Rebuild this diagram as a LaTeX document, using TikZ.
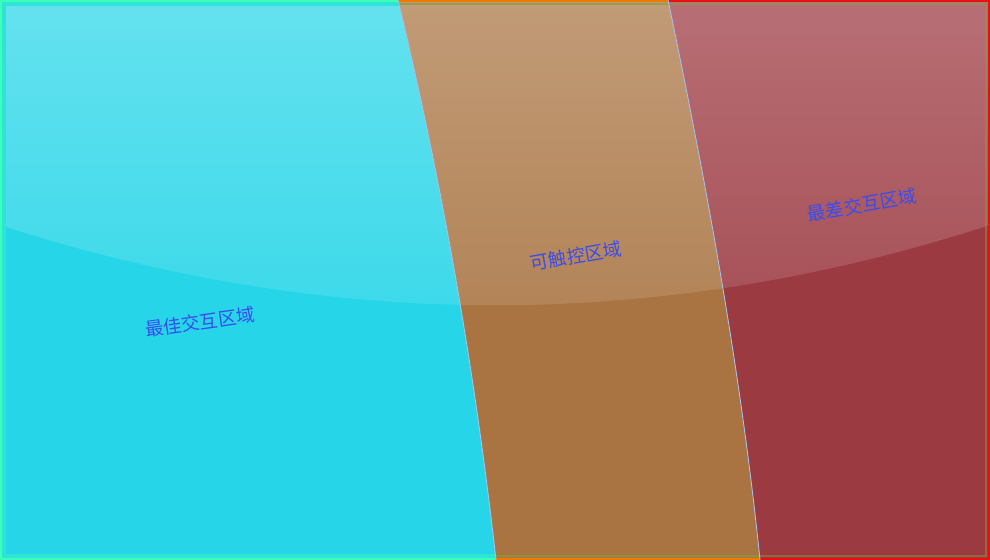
\documentclass[tikz,border=0pt]{standalone}
\usepackage{fontspec}
\newfontfamily\cjk{Noto Sans CJK SC}
\definecolor{cyanbase}{HTML}{26D5E8}
\definecolor{orangebase}{HTML}{A97442}
\definecolor{redbase}{HTML}{9C3A42}
\definecolor{cyanedge}{HTML}{3CFFB8}
\definecolor{orangeedge}{HTML}{F07800}
\definecolor{rededge}{HTML}{E81010}
\definecolor{innerline}{HTML}{7FA040}
\definecolor{sepline}{HTML}{A8C0EC}
\definecolor{labelblue}{HTML}{3A4CF0}
\tikzset{
  regionlabel/.style={font=\cjk\fontsize{10.5}{12}\selectfont, text=labelblue, inner sep=0pt},
  sepstyle/.style={draw=sepline, line width=0.5pt},
}
\begin{document}
\begin{tikzpicture}[x=0.02cm,y=-0.02cm]
\useasboundingbox (0,0) rectangle (990,560);
% left region
\begin{scope}
  \clip (0,0) -- (398,0) .. controls (443,187) and (475,373) .. (496,560) -- (0,560) -- cycle;
  \fill[cyanbase] (0,0) rectangle (990,560);
  \shade[top color=cyanbase!71!white, bottom color=cyanbase!91!white]
    (0,0) -- (990,0) -- (990,225) .. controls (660,332) and (330,332) .. (0,225) -- cycle;
  \draw[cyanedge!35!cyanbase, line width=2pt] (4,4) rectangle (986,556);
  \draw[cyanedge, line width=1.2pt] (1,1) rectangle (989,559);
\end{scope}
% middle region
\begin{scope}
  \clip (398,0) -- (668,0) .. controls (707,187) and (741,373) .. (760,560) -- (496,560) .. controls (475,373) and (443,187) .. (398,0) -- cycle;
  \fill[orangebase] (0,0) rectangle (990,560);
  \shade[top color=orangebase!72!white, bottom color=orangebase!90!white]
    (0,0) -- (990,0) -- (990,225) .. controls (660,332) and (330,332) .. (0,225) -- cycle;
  \draw[innerline, opacity=0.7, line width=1.2pt] (4,4) rectangle (986,556);
  \draw[orangeedge, line width=1.6pt] (1,1) rectangle (989,559);
\end{scope}
% right region
\begin{scope}
  \clip (668,0) -- (990,0) -- (990,560) -- (760,560) .. controls (741,373) and (707,187) .. (668,0) -- cycle;
  \fill[redbase] (0,0) rectangle (990,560);
  \shade[top color=redbase!73!white, bottom color=redbase!90!white]
    (0,0) -- (990,0) -- (990,225) .. controls (660,332) and (330,332) .. (0,225) -- cycle;
  \draw[innerline, opacity=0.5, line width=1.2pt] (4,4) rectangle (986,556);
  \draw[rededge, line width=1.6pt] (1,1) rectangle (989,559);
\end{scope}
% separators
\draw[sepstyle] (398,0) .. controls (443,187) and (475,373) .. (496,560);
\draw[sepstyle] (668,0) .. controls (707,187) and (741,373) .. (760,560);
% labels
\node[regionlabel, rotate=8] (best) at (200,322) {最佳交互区域};
\node[regionlabel, rotate=10] (touch) at (576,256) {可触控区域};
\node[regionlabel, rotate=10] (worst) at (862,205) {最差交互区域};
\end{tikzpicture}
\end{document}
